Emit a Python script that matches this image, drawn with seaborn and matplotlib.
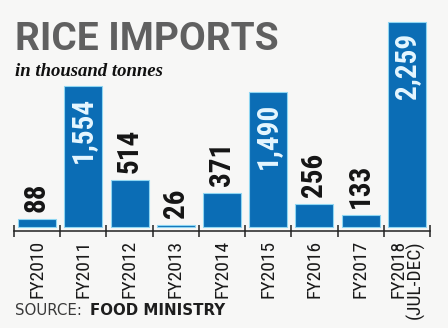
import matplotlib
matplotlib.use("Agg")
import matplotlib.pyplot as plt
import seaborn as sns
import pandas as pd

# Rice imports by fiscal year, thousand tonnes
years = ["FY2010", "FY2011", "FY2012", "FY2013", "FY2014",
         "FY2015", "FY2016", "FY2017", "FY2018\n(JUL-DEC)"]
imports = [88, 1554, 514, 26, 371, 1490, 256, 133, 2259]
value_labels = ["88", "1,554", "514", "26", "371", "1,490", "256", "133", "2,259"]

title = "RICE IMPORTS"
subtitle = "in thousand tonnes"
source_head = "SOURCE: "
source_name = "FOOD MINISTRY"

sns.set_theme(style="white")
plt.rcParams["font.family"] = ["DejaVu Sans"]

BG = "#f7f7f6"
BAR = "#0b6db5"
NARROW = ["Liberation Sans Narrow", "Roboto Condensed", "DejaVu Sans"]

df = pd.DataFrame({"year": years, "imports": imports})

fig = plt.figure(figsize=(4.48, 3.28), dpi=100, facecolor=BG)
ax = fig.add_axes([14 / 448, (328 - 231) / 328, 416 / 448, 211 / 328])
ax.set_facecolor(BG)

sns.barplot(data=df, x="year", y="imports", color=BAR, width=0.82,
            saturation=1, edgecolor="#8fd6f2", linewidth=0.8, ax=ax)

px = 205 / 2259  # pixels per thousand tonnes
ax.set_ylim(-4 / px, (227 - 20) / px)
ax.set_xlim(-0.5, len(years) - 0.5)

for side in ["top", "right", "left"]:
    ax.spines[side].set_visible(False)
ax.spines["bottom"].set_color("#222222")
ax.spines["bottom"].set_linewidth(1.1)
ax.set_yticks([])
ax.set_xlabel("")
ax.set_ylabel("")

# category boundaries carry the tick marks, centres carry the labels
ax.set_xticks([i - 0.5 for i in range(len(years) + 1)], minor=True)
ax.tick_params(axis="x", which="minor", direction="inout", length=8,
               width=1.1, color="#222222", bottom=True)
ax.set_xticks(range(len(years)))
ax.set_xticklabels(years, rotation=90, fontsize=14, color="#1a1a1a",
                   family=NARROW, ha="center", va="top",
                   multialignment="right", linespacing=0.85)
ax.tick_params(axis="x", which="major", length=0, pad=6.5)

for i, (v, lab) in enumerate(zip(imports, value_labels)):
    if v > 1000:
        ax.annotate(lab, (i, v), xytext=(0, -8), textcoords="offset points",
                    rotation=90, ha="center", va="top", color="#e6f7ff",
                    fontsize=21, fontweight="bold", family=NARROW)
    else:
        ax.annotate(lab, (i, v), xytext=(0, 5), textcoords="offset points",
                    rotation=90, ha="center", va="bottom", color="#151515",
                    fontsize=21, fontweight="bold", family=NARROW)

fig.text(15 / 448, (328 - 50) / 328, title, fontsize=28, fontweight="bold",
         family=["Roboto", "DejaVu Sans"], color="#606060", va="baseline")
fig.text(15 / 448, (328 - 76) / 328, subtitle, fontsize=13.5,
         fontweight="bold", style="italic",
         family=["Liberation Serif", "DejaVu Serif"], color="#111111",
         va="baseline")
fig.text(15 / 448, (328 - 315) / 328, source_head, fontsize=10.8,
         color="#3a3a3a", va="baseline")
fig.text(90 / 448, (328 - 315) / 328, source_name, fontsize=10.8,
         fontweight="bold", color="#1e1e1e", va="baseline")

fig.savefig("out.png", dpi=100, facecolor=BG)
